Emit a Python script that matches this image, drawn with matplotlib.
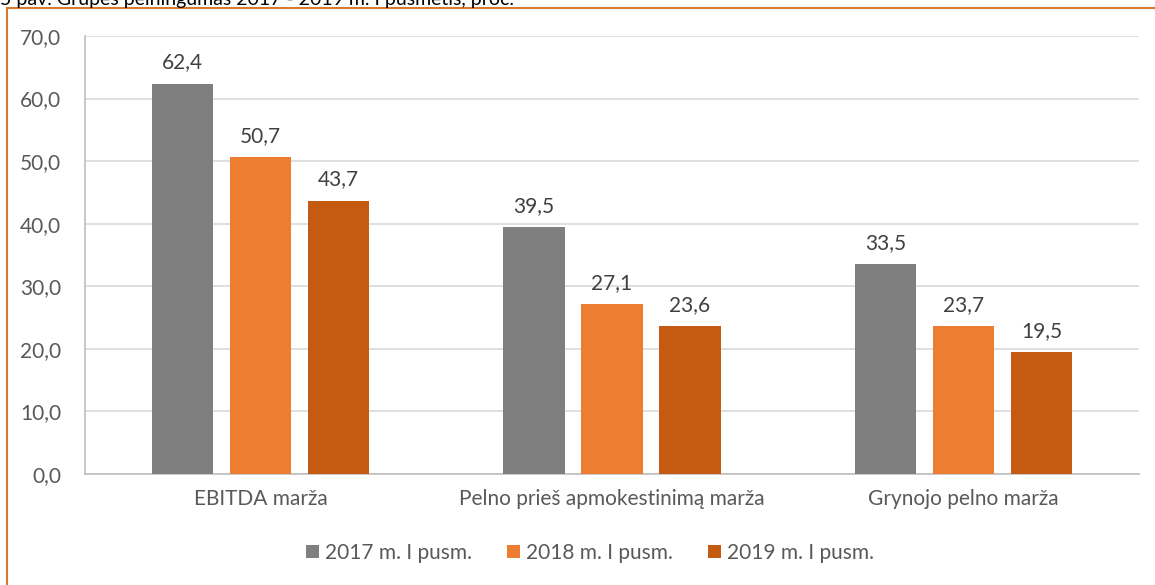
import numpy as np
import matplotlib.pyplot as plt
from matplotlib.lines import Line2D

plt.rcParams['font.family'] = ['Lato', 'DejaVu Sans']

# Chart data
categories = ['EBITDA marža', 'Pelno prieš apmokestinimą marža', 'Grynojo pelno marža']
series_names = ['2017 m. I pusm.', '2018 m. I pusm.', '2019 m. I pusm.']
vals_2017 = [62.4, 39.5, 33.5]
vals_2018 = [50.7, 27.1, 23.7]
vals_2019 = [43.7, 23.6, 19.5]
yticks = [0, 10, 20, 30, 40, 50, 60, 70]
title = '5 pav. Grupės pelningumas 2017 - 2019 m. I pusmetis, proc.'

colors = ['#7F7F7F', '#ED7D31', '#C55A11']
text_col = '#595959'
fs = 15

fig = plt.figure(figsize=(11.55, 5.85), dpi=100)
ax = fig.add_axes([85 / 1155, 1 - 474 / 585, (1139 - 85) / 1155, (474 - 36) / 585])

x = np.arange(len(categories))
width = 0.174
step = 0.222
for i, (vals, name) in enumerate(zip([vals_2017, vals_2018, vals_2019], series_names)):
    bars = ax.bar(x + (i - 1) * step, vals, width, color=colors[i], label=name, zorder=3)
    for b, v in zip(bars, vals):
        ax.annotate(f'{v:.1f}'.replace('.', ','), (b.get_x() + b.get_width() / 2, v),
                    xytext=(0, 8), textcoords='offset points', ha='center', va='bottom',
                    fontsize=fs, color='#404040')

ax.set_xlim(-0.5, 2.5)
ax.set_ylim(0, 70)
ax.set_yticks(yticks)
ax.set_yticklabels([f'{t:.1f}'.replace('.', ',') for t in yticks])
ax.set_xticks(x)
ax.set_xticklabels(categories)
ax.tick_params(axis='both', length=0, labelsize=fs, colors=text_col)
ax.tick_params(axis='y', pad=17)
ax.tick_params(axis='x', pad=11)
ax.grid(axis='y', color='#D9D9D9', linewidth=1.2, zorder=0)
for s in ['top', 'right']:
    ax.spines[s].set_visible(False)
for s in ['left', 'bottom']:
    ax.spines[s].set_color('#BFBFBF')
    ax.spines[s].set_linewidth(1.2)

leg = fig.legend(loc='center', bbox_to_anchor=(0.511, 1 - 553 / 585), ncol=3, frameon=False,
                 fontsize=fs, handlelength=0.6, handleheight=0.6, handletextpad=0.3,
                 columnspacing=1.7, labelcolor=text_col)

# orange frame around the chart area, partially off the page
frame_col = '#D7792F'
fig.add_artist(Line2D([7 / 1155, 1.0], [1 - 8 / 585, 1 - 8 / 585], color=frame_col,
                      linewidth=1.5, transform=fig.transFigure))
fig.add_artist(Line2D([7 / 1155, 7 / 1155], [0, 1 - 8 / 585], color=frame_col,
                      linewidth=1.5, transform=fig.transFigure))

# caption cut off at the top edge
fig.text(0.0, 1 - 5 / 585, title, ha='left', va='baseline', fontsize=14, color='black')

fig.savefig('out.png', dpi=100)
